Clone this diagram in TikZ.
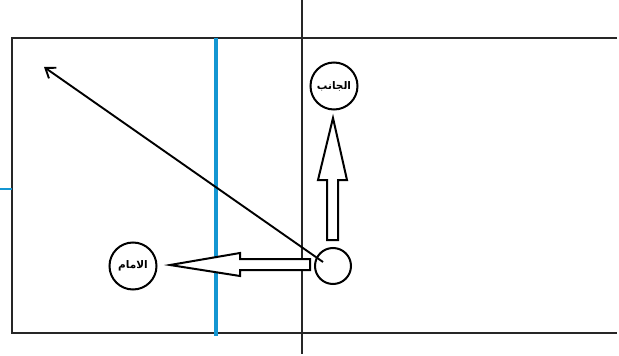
\documentclass[tikz,border=0pt]{standalone}
\usepackage{fontspec}
\TeXXeTstate=1
\newfontfamily\arabicfont[Script=Arabic]{DejaVu Sans}
\usetikzlibrary{arrows.meta}
\tikzset{
  frame/.style={line width=2.4pt, black!85},
  blueline/.style={line width=3.6pt, color={rgb,255:red,20;green,150;blue,210}},
  axis/.style={line width=1.8pt, black!85},
  lblcircle/.style={circle, draw, line width=2pt, minimum size=47pt, inner sep=0pt, font=\arabicfont\bfseries\fontsize{10.5}{11}\selectfont},
  blockarrow/.style={draw, line width=2pt, fill=white, line join=miter},
  dirarrow/.style={line width=1.9pt, -{Straight Barb[length=9pt,width=13pt,line width=1.9pt]}}
}
\begin{document}
\begin{tikzpicture}[x=1pt,y=-1pt]
\useasboundingbox (0,0) rectangle (619,356);
\fill[white] (0,0) rectangle (619,356);
% frame (three sides)
\draw[frame] (617,38) -- (12,38) -- (12,333) -- (617,333);
% blue line and tick
\draw[blueline] (216,38) -- (216,336);
\draw[blueline, line width=2.6pt] (0,189) -- (12,189);
% vertical axis
\draw[axis] (302,0) -- (302,354);
% small circle (player)
\node[circle, draw, line width=2pt, minimum size=36pt, inner sep=0pt] (p) at (333,266) {};
% labelled circles
\node[lblcircle] (side) at (334,86) {\beginR الجانب\endR};
\node[lblcircle] (front) at (133,266) {\beginR الامام\endR};
% block arrow up
\draw[blockarrow] (327,240) -- (327,180) -- (318,180) -- (333,118) -- (347,180) -- (338,180) -- (338,240) -- cycle;
% block arrow left
\draw[blockarrow] (310,259) -- (240,259) -- (240,253) -- (170,265) -- (240,276) -- (240,270) -- (310,270) -- cycle;
% diagonal arrow
\coordinate (tip) at (44,67);
\draw[dirarrow] ([shift={(-10,-4)}]p.center) -- (tip);
\end{tikzpicture}
\end{document}
